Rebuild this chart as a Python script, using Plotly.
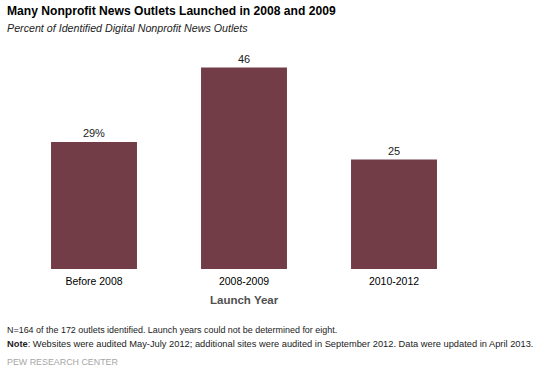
import plotly.graph_objects as go

categories = ["Before 2008", "2008-2009", "2010-2012"]
values = [29, 46, 25]
value_labels = ["29%", "46", "25"]

W, H = 538, 375
L, R, T, B = 19, 69, 50, 106
ph = H - T - B
pw = W - L - R

def px(x):
    return (x - L) / pw

def py(y):
    return (H - B - y) / ph

FONT = "Liberation Sans, Arial, sans-serif"
BAR = "#723D46"

fig = go.Figure(go.Bar(
    x=categories, y=values, text=value_labels,
    textposition="outside", cliponaxis=False,
    textfont=dict(family=FONT, size=11, color="#222222"),
    marker=dict(color=BAR, line=dict(width=0)),
    hoverinfo="skip",
))

anns = [
    dict(text="<b>Many Nonprofit News Outlets Launched in 2008 and 2009</b>",
         x=px(5), y=py(11), font=dict(size=12.1, color="#000000")),
    dict(text="<i>Percent of Identified Digital Nonprofit News Outlets</i>",
         x=px(5), y=py(28), font=dict(size=10.7, color="#222222")),
    dict(text="N=164 of the 172 outlets identified. Launch years could not be determined for eight.",
         x=px(5), y=py(329.5), font=dict(size=8.95, color="#222222")),
    dict(text="<b>Note</b>: Websites were audited May-July 2012; additional sites were audited in September 2012. Data were updated in April 2013.",
         x=px(5), y=py(344), font=dict(size=9.3, color="#222222")),
    dict(text="PEW RESEARCH CENTER",
         x=px(5), y=py(361.5), font=dict(size=8.9, color="#a6a6a6")),
]
for a in anns:
    a.update(xref="paper", yref="paper", xanchor="left", yanchor="middle",
             showarrow=False)
    a["font"]["family"] = FONT
fig.add_annotation(text="<b>Launch Year</b>", xref="paper", yref="paper",
                   x=px(244), y=py(300), xanchor="center", yanchor="middle",
                   showarrow=False, font=dict(family=FONT, size=11.5, color="#505050"))
for a in anns:
    fig.add_annotation(**a)

fig.update_layout(
    width=W, height=H,
    margin=dict(l=L, r=R, t=T, b=B, pad=0),
    paper_bgcolor="white", plot_bgcolor="white",
    bargap=0.427, showlegend=False,
    font=dict(family=FONT),
    xaxis=dict(showgrid=False, showline=False, zeroline=False, ticks="",
               ticklabelstandoff=4,
               tickfont=dict(family=FONT, size=10.5, color="#000000"), fixedrange=True),
    yaxis=dict(range=[0, 50], visible=False, fixedrange=True),
)

fig.write_html("out.html", config={"displayModeBar": False},
               post_script="document.body.style.margin='0';")
